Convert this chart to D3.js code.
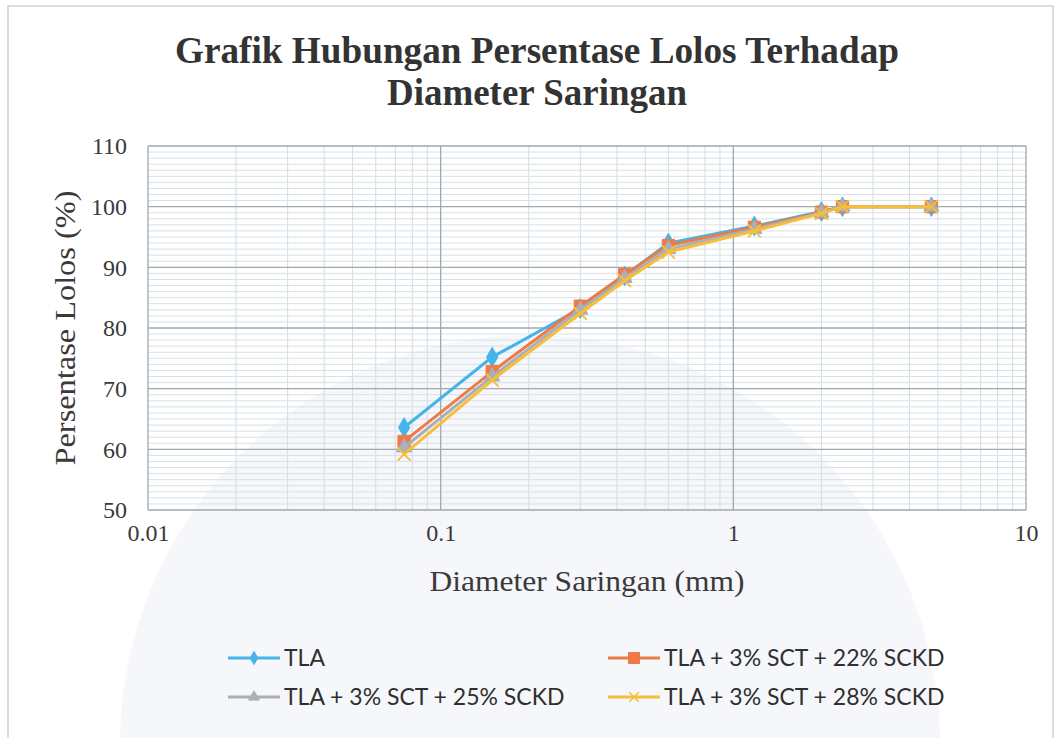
<!DOCTYPE html>
<html>
<head>
<meta charset="utf-8">
<script src="https://cdn.jsdelivr.net/npm/d3@7"></script>
<style>
  body { margin: 0; background: #fff; }
  svg { display: block; }
</style>
</head>
<body>
<div id="chart"></div>
<script>
const W = 1059, H = 738

// sieve sizes (mm) and percent passing
const sizes = [4.75, 2.36, 2.0, 1.18, 0.6, 0.425, 0.3, 0.15, 0.075]
const tla = [100, 100, 99.2, 96.8, 94.0, 88.6, 83.2, 75.2, 63.6]
const sct22 = [100, 100, 99.1, 96.6, 93.6, 88.8, 83.6, 72.8, 61.3]
const sct25 = [100, 100, 99.0, 96.3, 93.0, 88.2, 83.0, 72.0, 60.3]
const sct28 = [100, 100, 98.9, 96.0, 92.5, 87.8, 82.4, 71.4, 59.2]
const seriesNames = ["TLA", "TLA + 3% SCT + 22% SCKD", "TLA + 3% SCT + 25% SCKD", "TLA + 3% SCT + 28% SCKD"]
const xTicks = [0.01, 0.1, 1, 10]
const yTicks = [50, 60, 70, 80, 90, 100, 110]

const colors = ["#45b4ea", "#ee7a45", "#a9b0b8", "#f6be3a"]
const shapes = [d3.symbolDiamond, d3.symbolSquare, d3.symbolTriangle, d3.symbolX]
const markSize = [110, 150, 100, 110]
const legendMarkSize = [50, 120, 50, 60]

const series = [tla, sct22, sct25, sct28].map((vals, i) => ({
  name: seriesNames[i],
  color: colors[i],
  shape: shapes[i],
  size: markSize[i],
  lsize: legendMarkSize[i],
  points: sizes.map((s, j) => ({x: s, y: vals[j]}))
}))

const margin = ({top: 146, right: 33, bottom: 228, left: 148})

const svg = d3.select("#chart").append("svg")
    .attr("width", W)
    .attr("height", H)

// chart border
svg.append("rect")
    .attr("x", 8).attr("y", 6)
    .attr("width", 1045).attr("height", 740)
    .attr("fill", "none")
    .attr("stroke", "#c9d3d8")
    .attr("stroke-width", 1.5)

// faint watermark arc behind the plot
svg.append("path")
    .attr("d", d3.arc()({innerRadius: 0, outerRadius: 410, startAngle: -Math.PI / 2, endAngle: Math.PI / 2}))
    .attr("transform", "translate(530,745)")
    .attr("fill", "#e9eef3")
    .attr("opacity", 0.45)

const xScale = d3.scaleLog()
    .domain([0.01, 10])
    .range([margin.left, W - margin.right])

const yScale = d3.scaleLinear()
    .domain([50, 110])
    .range([H - margin.bottom, margin.top])

const g = svg.append("g")

// minor grid
const minorX = []
for (let d = 0.01; d < 10; d *= 10) for (let k = 2; k <= 9; k++) minorX.push(d * k)
g.selectAll(".minx").data(minorX).enter().append("line")
    .attr("x1", d => xScale(d)).attr("x2", d => xScale(d))
    .attr("y1", yScale(50)).attr("y2", yScale(110))
    .attr("stroke", "#d3dde3").attr("stroke-width", 1)

const minorY = d3.range(51, 110).filter(v => v % 10 !== 0)
g.selectAll(".miny").data(minorY).enter().append("line")
    .attr("x1", xScale(0.01)).attr("x2", xScale(10))
    .attr("y1", d => yScale(d)).attr("y2", d => yScale(d))
    .attr("stroke", "#d8e1e6").attr("stroke-width", 1)

// major grid
g.selectAll(".majx").data(xTicks).enter().append("line")
    .attr("x1", d => xScale(d)).attr("x2", d => xScale(d))
    .attr("y1", yScale(50)).attr("y2", yScale(110))
    .attr("stroke", "#9ea9b0").attr("stroke-width", 1.3)

g.selectAll(".majy").data(yTicks).enter().append("line")
    .attr("x1", xScale(0.01)).attr("x2", xScale(10))
    .attr("y1", d => yScale(d)).attr("y2", d => yScale(d))
    .attr("stroke", "#9ea9b0").attr("stroke-width", 1.3)

// axes (labels only)
const xAxis = d3.axisBottom(xScale)
    .tickValues(xTicks)
    .tickFormat(d => String(d))
    .tickSize(0)
    .tickPadding(14)

const yAxis = d3.axisLeft(yScale)
    .tickValues(yTicks)
    .tickSize(0)
    .tickPadding(21)

const xa = svg.append("g")
    .attr("transform", `translate(0,${yScale(50)})`)
    .call(xAxis)
const ya = svg.append("g")
    .attr("transform", `translate(${xScale(0.01)},0)`)
    .call(yAxis)

;[xa, ya].forEach(a => {
  a.select(".domain").remove()
  a.selectAll("text")
    .attr("font-family", "'Liberation Serif', 'Times New Roman', serif")
    .attr("font-size", 24)
    .attr("fill", "#3a3a3a")
})

// lines and markers
const line = d3.line()
    .x(d => xScale(d.x))
    .y(d => yScale(d.y))

const sg = svg.selectAll(".series").data(series).enter().append("g")

sg.append("path")
    .attr("d", d => line(d.points))
    .attr("fill", "none")
    .attr("stroke", d => d.color)
    .attr("stroke-width", 3)

sg.each(function(s) {
  const isX = s.shape === d3.symbolX
  const sym = d3.symbol().type(s.shape).size(s.size)
  d3.select(this).selectAll("path.m").data(s.points).enter().append("path")
      .attr("class", "m")
      .attr("d", sym)
      .attr("transform", d => `translate(${xScale(d.x)},${yScale(d.y)})`)
      .attr("fill", isX ? "none" : s.color)
      .attr("stroke", s.color)
      .attr("stroke-width", isX ? 1.8 : 1)
})

// title
const title = svg.append("text")
    .attr("text-anchor", "middle")
    .attr("font-family", "'Liberation Serif', 'Times New Roman', serif")
    .attr("font-weight", "bold")
    .attr("font-size", 37)
    .attr("fill", "#333")
title.append("tspan").attr("x", 537).attr("y", 63)
    .attr("textLength", 724).attr("lengthAdjust", "spacingAndGlyphs")
    .text("Grafik Hubungan  Persentase Lolos Terhadap")
title.append("tspan").attr("x", 537).attr("y", 105)
    .attr("textLength", 300).attr("lengthAdjust", "spacingAndGlyphs")
    .text("Diameter Saringan")

// axis titles
svg.append("text")
    .attr("x", 587).attr("y", 591)
    .attr("text-anchor", "middle")
    .attr("font-family", "'Liberation Serif', 'Times New Roman', serif")
    .attr("font-size", 29)
    .attr("fill", "#3a3a3a")
    .attr("textLength", 315).attr("lengthAdjust", "spacingAndGlyphs")
    .text("Diameter Saringan (mm)")

svg.append("text")
    .attr("transform", "translate(75,328) rotate(-90)")
    .attr("text-anchor", "middle")
    .attr("font-family", "'Liberation Serif', 'Times New Roman', serif")
    .attr("font-size", 29)
    .attr("fill", "#3a3a3a")
    .attr("textLength", 275).attr("lengthAdjust", "spacingAndGlyphs")
    .text("Persentase Lolos (%)")

// legend
const legendPos = [[228, 658], [608, 658], [228, 697], [608, 697]]
const legend = svg.selectAll(".legend").data(series).enter().append("g")
    .attr("transform", (d, i) => `translate(${legendPos[i][0]},${legendPos[i][1]})`)

legend.append("line")
    .attr("x1", 0).attr("x2", 52)
    .attr("stroke", d => d.color)
    .attr("stroke-width", 3)

legend.append("path")
    .attr("d", d => d3.symbol().type(d.shape).size(d.lsize)())
    .attr("transform", "translate(26,0)")
    .attr("fill", d => d.shape === d3.symbolX ? "none" : d.color)
    .attr("stroke", d => d.color)
    .attr("stroke-width", d => d.shape === d3.symbolX ? 1.6 : 1)

legend.append("text")
    .attr("x", 56)
    .attr("dy", "0.35em")
    .attr("font-family", "Lato, 'Open Sans', sans-serif")
    .attr("font-size", 23)
    .attr("fill", "#2f2f2f")
    .text(d => d.name)
</script>
</body>
</html>
